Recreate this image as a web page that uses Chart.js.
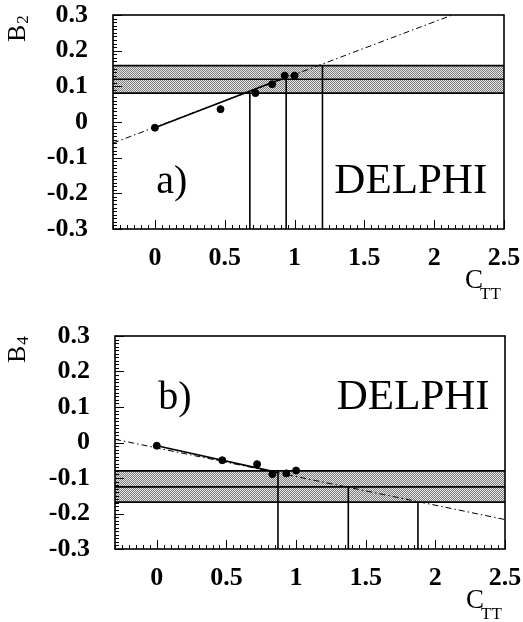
<!DOCTYPE html>
<html>
<head>
<meta charset="utf-8">
<script src="https://cdn.jsdelivr.net/npm/chart.js@4.4.1/dist/chart.umd.min.js"></script>
<style>
  html, body { margin: 0; padding: 0; background: #fff; }
  canvas { display: block; }
</style>
</head>
<body>
<canvas id="chartA" width="523" height="311"></canvas>
<canvas id="chartB" width="523" height="311"></canvas>
<script>
// points (C_TT, B2) and (C_TT, B4)
const cttA = [0, 0.47, 0.72, 0.84, 0.93, 1.0];
const b2 = [-0.016, 0.036, 0.081, 0.106, 0.13, 0.13];
const cttB = [0, 0.47, 0.72, 0.83, 0.93, 1.0];
const b4 = [-0.009, -0.05, -0.061, -0.089, -0.087, -0.079];

// measured band : low, central, high
const bandA = [0.081, 0.12, 0.158];
const bandB = [-0.168, -0.125, -0.08];

// vertical lines (x, top)
const cutXA = [0.68, 0.94, 1.2];
const cutYA = [0.081, 0.12, 0.158];
const cutXB = [0.87, 1.375, 1.875];
const cutYB = [-0.08, -0.125, -0.168];

// fit, solid part and dotted extension : x0, y0, x1, y1
const fitA = [0, -0.016, 0.9, 0.12];
const extA = [-0.3, -0.059, 2.13, 0.3];
const fitB = [0, -0.009, 0.84, -0.082];
const extB = [-0.3, 0.009, 2.5, -0.217];

const xTicks = [0, 0.5, 1, 1.5, 2, 2.5];
const yTicks = [0.3, 0.2, 0.1, 0, -0.1, -0.2, -0.3];
const xRange = [-0.3, 2.5];
const yRange = [-0.3, 0.3];

const SERIF = '"Liberation Serif", "DejaVu Serif", serif';

function segment(p, dash, order) {
  return {
    data: [{ x: p[0], y: p[1] }, { x: p[2], y: p[3] }],
    showLine: true,
    borderColor: '#000',
    borderWidth: dash ? 1 : 1.6,
    borderDash: dash || [],
    pointRadius: 0,
    fill: false,
    order: order
  };
}

function flat(v) {
  return {
    data: [{ x: xRange[0], y: v }, { x: xRange[1], y: v }],
    showLine: true,
    borderColor: '#000',
    borderWidth: 1.6,
    pointRadius: 0,
    fill: false,
    order: 4
  };
}

// cadre, graduations et textes
const frame = {
  id: 'frame',
  afterDatasetsDraw(chart, args, o) {
    const { ctx, chartArea: a, scales: { x, y } } = chart;
    ctx.save();
    ctx.strokeStyle = '#000';
    ctx.lineWidth = 1.6;
    ctx.strokeRect(a.left, a.top, a.right - a.left, a.bottom - a.top);
    ctx.lineWidth = 1;
    ctx.beginPath();
    for (let i = -30; i <= 30; i++) {
      const py = Math.round(y.getPixelForValue(i / 100)) + 0.5;
      const len = i % 10 === 0 ? 9 : 4;
      ctx.moveTo(a.left, py);
      ctx.lineTo(a.left + len, py);
    }
    for (let i = -6; i <= 50; i++) {
      const px = Math.round(x.getPixelForValue(i / 20)) + 0.5;
      const len = i % 10 === 0 ? 9 : 4;
      ctx.moveTo(px, a.bottom);
      ctx.lineTo(px, a.bottom - len);
    }
    ctx.stroke();

    ctx.fillStyle = '#000';
    ctx.textBaseline = 'alphabetic';
    ctx.font = '40px ' + SERIF;
    ctx.textAlign = 'left';
    ctx.fillText(o.tag, x.getPixelForValue(o.tagX), y.getPixelForValue(o.textY));
    ctx.font = '43px ' + SERIF;
    ctx.textAlign = 'right';
    ctx.fillText('DELPHI', x.getPixelForValue(o.nameX), y.getPixelForValue(o.textY));

    // titre axe x : C_TT
    ctx.textAlign = 'left';
    ctx.font = '27px ' + SERIF;
    ctx.fillText('C', a.right - 39, a.bottom + 59);
    ctx.font = '17px ' + SERIF;
    ctx.fillText('TT', a.right - 24, a.bottom + 70);

    // titre axe y : B_n
    ctx.translate(25, a.top + 27);
    ctx.rotate(-Math.PI / 2);
    ctx.font = '26px ' + SERIF;
    ctx.fillText('B', 0, 0);
    const w = ctx.measureText('B').width;
    ctx.font = '17px ' + SERIF;
    ctx.fillText(o.sub, w + 1, 3);
    ctx.restore();
  }
};

function makePanel(id, cfg) {
  const canva = document.getElementById(id);
  const ctx = canva.getContext('2d');

  // grisé pointillé de la bande
  const tile = document.createElement('canvas');
  tile.width = 2;
  tile.height = 2;
  const t = tile.getContext('2d');
  t.fillStyle = '#e6e6e6';
  t.fillRect(0, 0, 2, 2);
  t.fillStyle = '#7c7c7c';
  t.fillRect(0, 0, 1, 1);
  t.fillRect(1, 1, 1, 1);
  const stipple = ctx.createPattern(tile, 'repeat');

  const high = flat(cfg.band[2]);
  const low = flat(cfg.band[0]);
  low.fill = '-1';
  low.backgroundColor = stipple;

  const datasets = [high, low, flat(cfg.band[1])];
  cfg.cutX.forEach((cx, i) => {
    datasets.push(segment([cx, yRange[0], cx, cfg.cutY[i]], null, 3));
  });
  datasets.push(segment(cfg.ext, [6, 3, 1.5, 3], 2));
  datasets.push(segment(cfg.fit, null, 1));
  datasets.push({
    data: cfg.px.map((v, i) => ({ x: v, y: cfg.py[i] })),
    backgroundColor: '#000',
    borderColor: '#000',
    pointRadius: 3.5,
    order: 0
  });

  new Chart(canva, {
    type: 'scatter',
    data: { datasets: datasets },
    options: {
      responsive: false,
      animation: false,
      events: [],
      layout: { padding: cfg.padding },
      plugins: {
        legend: { display: false },
        tooltip: { enabled: false },
        filler: { drawTime: 'beforeDatasetsDraw' },
        frame: cfg.text
      },
      scales: {
        x: {
          type: 'linear',
          min: xRange[0],
          max: xRange[1],
          afterBuildTicks: s => { s.ticks = xTicks.map(v => ({ value: v })); },
          afterFit: s => {
            s.height = cfg.xHeight;
            s.paddingLeft = 0;
            s.paddingRight = 0;
          },
          grid: { display: false, drawTicks: false },
          border: { display: false },
          ticks: {
            autoSkip: false,
            maxRotation: 0,
            padding: 14,
            color: '#000',
            font: { family: SERIF, size: 26, weight: 'bold' },
            callback: v => String(v)
          }
        },
        y: {
          type: 'linear',
          min: yRange[0],
          max: yRange[1],
          afterBuildTicks: s => { s.ticks = yTicks.map(v => ({ value: v })); },
          afterFit: s => {
            s.width = cfg.yWidth;
            s.paddingTop = 0;
            s.paddingBottom = 0;
          },
          grid: { display: false, drawTicks: false },
          border: { display: false },
          ticks: {
            autoSkip: false,
            padding: 25,
            color: '#000',
            font: { family: SERIF, size: 26, weight: 'bold' },
            callback: v => String(v)
          }
        }
      }
    },
    plugins: [frame]
  });
}

makePanel('chartA', {
  px: cttA, py: b2, band: bandA, cutX: cutXA, cutY: cutYA, fit: fitA, ext: extA,
  padding: { top: 15, right: 19, left: 0, bottom: 0 },
  yWidth: 113, xHeight: 82,
  text: { tag: 'a)', tagX: 0.01, nameX: 2.38, textY: -0.2, sub: '2' }
});

makePanel('chartB', {
  px: cttB, py: b4, band: bandB, cutX: cutXB, cutY: cutYB, fit: fitB, ext: extB,
  padding: { top: 25, right: 18, left: 0, bottom: 0 },
  yWidth: 115, xHeight: 73,
  text: { tag: 'b)', tagX: 0.01, nameX: 2.39, textY: 0.095, sub: '4' }
});
</script>
</body>
</html>
